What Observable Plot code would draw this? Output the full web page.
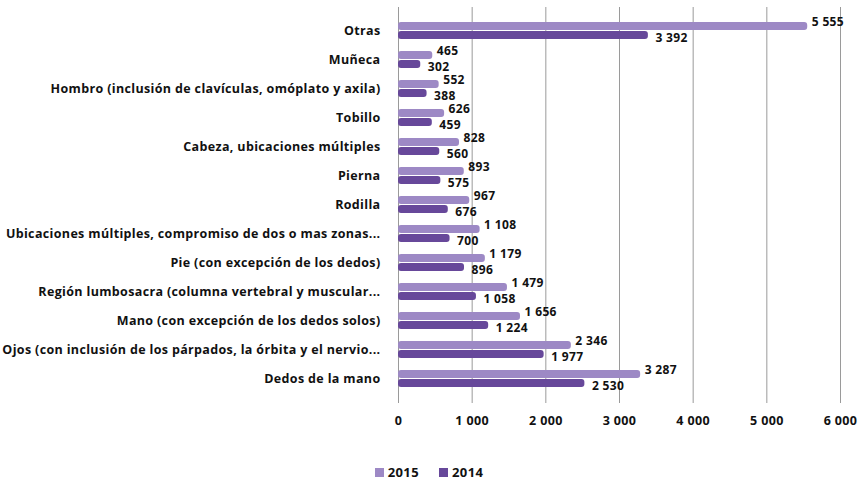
<!DOCTYPE html>
<html>
<head>
<meta charset="utf-8">
<script src="https://cdn.jsdelivr.net/npm/d3@7"></script>
<script src="https://cdn.jsdelivr.net/npm/@observablehq/plot@0.6"></script>
<style>
  body { margin: 0; background: #fff; font-family: "Open Sans", sans-serif; }
  #legend { display: flex; justify-content: center; gap: 20px; font-weight: bold; font-size: 13px; letter-spacing: 0.4px; color: #111; margin-top: 23px; padding-left: 0px; }
  #legend span.item { display: flex; align-items: center; gap: 4px; }
  #legend span.sw { width: 9px; height: 9px; display: inline-block; }
</style>
</head>
<body>
<div id="chart"></div>
<div id="legend"></div>
<script>
const categories = [
  "Otras",
  "Muñeca",
  "Hombro (inclusión de clavículas, omóplato y axila)",
  "Tobillo",
  "Cabeza, ubicaciones múltiples",
  "Pierna",
  "Rodilla",
  "Ubicaciones múltiples, compromiso de dos o mas zonas...",
  "Pie (con excepción de los dedos)",
  "Región lumbosacra (columna vertebral y muscular...",
  "Mano (con excepción de los dedos solos)",
  "Ojos (con inclusión de los párpados, la órbita y el nervio...",
  "Dedos de la mano"
];
const values2015 = [5555, 465, 552, 626, 828, 893, 967, 1108, 1179, 1479, 1656, 2346, 3287];
const values2014 = [3392, 302, 388, 459, 560, 575, 676, 700, 896, 1058, 1224, 1977, 2530];
const seriesNames = ["2015", "2014"];
const seriesColors = ["#9d89c5", "#67489a"];
const xTicks = [0, 1000, 2000, 3000, 4000, 5000, 6000];

const rows = categories.map((c, i) => ({cat: c, v2015: values2015[i], v2014: values2014[i]}));
const fmt = d3.formatLocale({thousands: " ", grouping: [3], decimal: ",", currency: ["", ""]}).format(",");

const chart = Plot.plot({
  width: 858,
  height: 440,
  marginLeft: 398,
  marginRight: 18,
  marginTop: 7,
  marginBottom: 37,
  style: {fontFamily: "'Open Sans', sans-serif", fontSize: "12.5px", fontWeight: "bold", color: "#111", letterSpacing: "0.35px"},
  x: {domain: [0, 6000], ticks: xTicks, tickFormat: fmt, label: null},
  y: {domain: categories, padding: 0.4, label: null},
  marks: [
    Plot.gridX(xTicks, {stroke: "#9a9a9a", strokeOpacity: 1, strokeWidth: 1}),
    Plot.ruleX([0], {stroke: "#9a9a9a"}),
    Plot.barX(rows, {x: "v2015", y: "cat", fill: seriesColors[0], insetBottom: 9, rx: 3}),
    Plot.barX(rows, {x: "v2014", y: "cat", fill: seriesColors[1], insetTop: 9, rx: 3}),
    Plot.text(rows, {x: "v2015", y: "cat", text: d => fmt(d.v2015), dx: 4, dy: -9, textAnchor: "start", fill: "#111", fontSize: 12}),
    Plot.text(rows, {x: "v2014", y: "cat", text: d => fmt(d.v2014), dx: 7, dy: 7, textAnchor: "start", fill: "#111", fontSize: 12}),
    Plot.axisY({tickSize: 0, tickPadding: 18, fontSize: 12.5, fill: "#111"}),
    Plot.axisX({ticks: xTicks, tickFormat: fmt, tickSize: 0, tickPadding: 13, fontSize: 12.5, fill: "#111", textAnchor: "middle"})
  ]
});
document.getElementById("chart").appendChild(chart);

const legend = document.getElementById("legend");
seriesNames.forEach((name, i) => {
  const item = document.createElement("span");
  item.className = "item";
  const sw = document.createElement("span");
  sw.className = "sw";
  sw.style.background = seriesColors[i];
  item.appendChild(sw);
  item.appendChild(document.createTextNode(name));
  legend.appendChild(item);
});
</script>
</body>
</html>
